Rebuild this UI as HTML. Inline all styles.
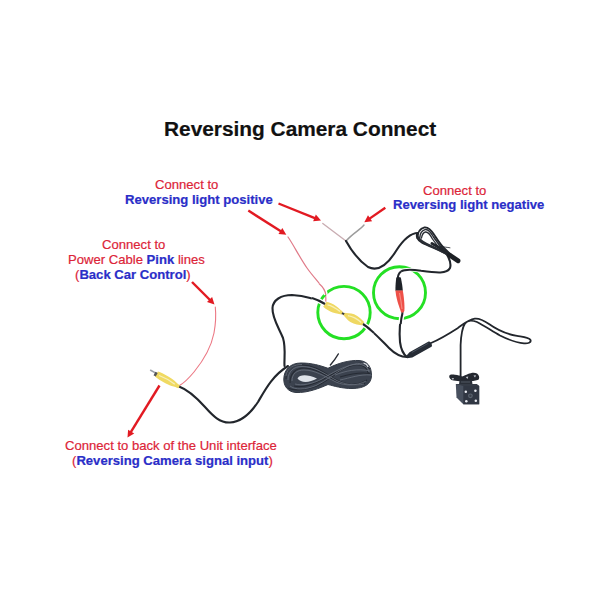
<!DOCTYPE html>
<html><head><meta charset="utf-8">
<style>
html,body{margin:0;padding:0;width:600px;height:600px;overflow:hidden;background:#fff;}
body{position:relative;font-family:"Liberation Sans",sans-serif;}
.t{position:absolute;white-space:nowrap;line-height:1;-webkit-text-stroke:0.2px currentColor;}
.r{color:#dc2438;}
.b{color:#2a2ec8;font-weight:bold;}
svg{position:absolute;left:0;top:0;}
</style></head><body>
<svg width="600" height="600" viewBox="0 0 600 600">
<g fill="none" stroke-linecap="round" stroke-linejoin="round">
<!-- pink thin wires -->
<path d="M288,237 C293,244 300,258 307,268 C314,278 322,285 325,292 C326,296 326,300 325.5,303" stroke="#e07a88" stroke-width="1.2"/>
<path d="M215.3,307 C216,314 216,322 214,333 C211,348 203,361 194,372 C189,378 184,383 179.5,385.5" stroke="#ec7884" stroke-width="1.1"/>
<path d="M322.8,223.5 L346,241" stroke="#c9adb2" stroke-width="1.4"/>
<path d="M364,225 C360,230 353,233 346,241" stroke="#9c9c9c" stroke-width="1.5"/>
<!-- black wires -->
<path d="M346,241 C351,250 358,260 368,267 C378,272 388,264 396,251 C403,240 410,233 418,233" stroke="#22262c" stroke-width="2.1"/>
<path d="M441,247 C447,253 452,262 450,268 C447,274 437,273 421,270.8 C413,269.5 405,268.8 401,271.5 C398.5,273.5 397.6,277 397.8,280" stroke="#22262c" stroke-width="2.1"/>
<path d="M402.7,311 C400,320 399,330 400,342 C401,350 403,354 407,357" stroke="#22262c" stroke-width="2.1"/>
<path d="M325,304 C318,300 306,296 292,295 C281,295 273,300 272.5,308 C272,318 279,328 283,338 C286,348 284,358 284.5,366" stroke="#22262c" stroke-width="2.1"/>
<path d="M363,324 C372,330 381,340 389,348 C395,354 400,357 407,357" stroke="#22262c" stroke-width="2.1"/>
<path d="M431,343 C437,340.5 447,335 457.6,328.2 C463,324.5 468,319.5 474.8,318.6 C480,318 484,320.5 489,324 C496,329 506,334 517,335.9 C523,337 529,337.5 530.5,340 C531.5,342.5 528,343.6 524,343.3 C515,342.6 507,339 500,335.5 C492,331 484,325.5 477,322 C472,320 467,320.5 465,323.5 C462,328 461,336 460.6,345 L460.6,378" stroke="#22262c" stroke-width="1.8"/>
<path d="M179,386.5 C186,389 196,397 205,407 C213,416 220,423 230,422.5 C240,422 250,414 258,402 C265,390 272,376 288,366" stroke="#22262c" stroke-width="2.1"/>
<!-- top-right coil -->
<path d="M417.5,233 C416,236 417,240 422,242.5 C429,246 439,250 449,255" stroke="#22262c" stroke-width="2"/>
<path d="M417.5,238.3 C417.5,232 420,228.5 424.5,227.4 C428.5,226.8 431.5,230.5 434.2,234.8 C437,239 440.5,245 445,249 C447,251 449,253 451,255" stroke="#22262c" stroke-width="1.9"/>
<path d="M419.8,237.5 C420,233.5 422,230.5 425,229.6 C428,229 431,232.5 433.5,237 C436,241 440,246.5 446,252" stroke="#2a2e35" stroke-width="1.5"/>
<path d="M421.5,238 C422,235 423.5,232.5 425.5,232 C428,231.8 430.5,235 432.5,239 C435,243 438,247 443,251" stroke="#2a2e35" stroke-width="1.3"/>
<path d="M418.5,237.5 C420,241 425,243.5 431,246 C437,248.5 443,251.5 449,255.5" stroke="#2a2e35" stroke-width="2.2"/>
<path d="M432,243.5 C437,246 442,249 447,253" stroke="#22262c" stroke-width="3"/>
<path d="M440,246.5 C444,247 447,247.3 450,247.8" stroke="#22262c" stroke-width="0.8"/>
<path d="M449.5,255 L458,260.8" stroke="#1c1f24" stroke-width="4.8"/>
</g>
<!-- coil big -->
<g fill="none" stroke-linejoin="round">
<path d="M328,368.3 C338,363 350,360 359,360.5 C367,361 371.5,366 371.5,375.5 C371.5,383.5 365,388.5 352,388.5 C342,388.5 334,386 328,384.5 C320,388 308,393 296,392.5 C288,392 283.5,386 283.8,379 C284,370 290,363 301,363 C312,363 320,365.5 328,368.3 Z" fill="#3b424e" stroke="#333a45" stroke-width="1"/>
<g stroke="#262b34" stroke-width="1.1" fill="none">
<path d="M286,379 C286,369 293,365 302,365 C314,365 322,371 334,378.5 C344,384.5 356,386.5 365,383.5"/>
<path d="M290,383 C290,373 296,368 304,368 C315,368 324,374 336,381 C345,385.5 357,386 367,380"/>
<path d="M288,388 C294,391 306,390.5 317,386 C327,381 337,372 348,366 C357,362 366,362 370,369"/>
<path d="M294,386 C302,388 312,385 322,380 C332,374 342,368 354,365 C362,364 367,366.5 368.5,374"/>
<path d="M340,377 C350,374 360,372 370,373.5"/>
</g>
<g stroke="#69717e" stroke-width="0.8" fill="none">
<path d="M288,380 C288,371 294,366.5 302,366.5 C314,366.5 322,372 334,379 C344,385 356,386 364,384"/>
<path d="M292,381 C292,373.5 297,370 304,370 C315,370 324,376 336,382 C345,386 357,386 366,381"/>
<path d="M290,386 C295,390 305,390 316,385.5 C326,381 336,372 348,366 C356,362.5 366,362 370,368"/>
<path d="M295,384 C302,386 312,384 322,379 C332,373 342,367 354,364.5 C362,363.5 368,366 369,372"/>
<path d="M286,376 C287,368 294,364.5 302,364.5"/>
<path d="M340,380 C350,378 360,374 371,375"/>
<path d="M335,375 C345,371 358,368 370,371"/>
</g>
<path d="M297.5,378.5 C299.5,374.5 307,374 317,378.5 C309,383 301,383 297.5,378.5 Z" fill="#dfe3e9"/>
<path d="M363.5,363 C365.5,363.5 367.5,365 368,367" stroke="#d9dce2" stroke-width="1.2" fill="none"/>

<path d="M338.3,354 C336,358 333,362 330.4,365" stroke="#2a2e35" stroke-width="1.5" stroke-linecap="round"/>
</g>
<!-- yellow connectors -->
<g transform="translate(324.5,304.3) rotate(26.6)">
<path d="M0,-2.8 C3,-3.9 8,-4.1 11,-3.6 C15,-2.9 18,-1.9 20,-1.3 L20,1.3 C18,1.9 15,2.9 11,3.6 C8,4.1 3,3.9 0,2.8 Z" fill="#efd862"/>
<path d="M21.5,-1.3 C24,-2 27,-3.9 31,-4.3 C36,-4.4 40,-3.2 44,-1.6 L44,1.6 C40,3.2 36,4.4 31,4.3 C27,3.9 24,2 21.5,1.3 Z" fill="#efd862"/>
<path d="M3,-0.8 C7,-1.8 12,-1.5 17,-0.6" stroke="#f7f0b8" stroke-width="1.3" fill="none"/>
<path d="M26,-0.3 C30,-1.5 36,-1.5 41,-0.3" stroke="#f7f0b8" stroke-width="1.3" fill="none"/>
<rect x="19.5" y="-1" width="2.5" height="2" fill="#3a3a3a"/>
</g>
<g transform="translate(156.5,374) rotate(29.5)">
<path d="M0,-3 C6,-4 14,-4.2 19,-3 C22,-2.2 24,-1.8 26,-1.6 L26,1.6 C24,1.8 22,2.2 19,3 C14,4.2 6,4 0,3 Z" fill="#f0da62"/>
<path d="M3,0 C9,-1 15,-1 21,0" stroke="#f6f0c0" stroke-width="1.2" fill="none"/>
<path d="M-7.5,-1.2 L0,-1.2 L0,0.4 L-7.5,0.4 Z" fill="#9aa0a8"/>
<path d="M-2,-1.5 L0.5,-1.5 L0.5,2.5 L-2,2.5 Z" fill="#555"/>
</g>
<!-- red connector -->
<path d="M396.3,277.5 C397.5,276.8 399.8,276.8 400.8,277.5 C401.8,282 402.6,287 402.8,290.8 L395.4,290.8 C395.4,286 395.8,281 396.3,277.5 Z" fill="#1e2228"/>
<path d="M395.4,290.5 L402.8,290.5 C403.6,295 404.8,304 404.4,310.5 C404,313 401.5,313.2 401,312 C398.5,305 396,298 395.4,290.5 Z" fill="#ee5048"/><path d="M399.5,293 C400.5,298 401.5,304 402,309" stroke="#f58a80" stroke-width="1.2" fill="none"/>
<!-- inline module -->
<g transform="translate(406.5,357.3) rotate(-29.2)"><path d="M0,-1.2 L5,-2.9 L27,-2.9 C29,-2.9 29,2.9 27,2.9 L5,2.9 L0,1.2 Z" fill="#262c35"/><path d="M7,-1.6 L26,-1.6" stroke="#4c5563" stroke-width="0.8"/></g>
<!-- camera -->
<g>
<path d="M449.2,376 C449.8,374.5 452,374.2 455,374.8 C458,375.3 460,375.6 462,376.4 C464,376 466,374.8 468,374 C471,372.8 474.5,372 477,373.6 C479,375 479.8,377.5 478.8,379.3 C477.8,380.6 474,381 470.5,381.2 L462,381.4 C459,381.2 456,381 453.5,380.6 C450.5,380 449,378 449.2,376 Z" fill="#242830"/>
<path d="M451.5,378.2 L454,378 L453,380 Z" fill="#c9cdd4"/>
<path d="M465.8,377 L468.3,376.6 L467.5,379 Z" fill="#c9cdd4"/>
<path d="M473.5,375.5 L476,375.3 L475,377.6 Z" fill="#c9cdd4"/>
<path d="M459.5,380.5 L472,380.5 L472.5,384.5 L459,384.5 Z" fill="#2a2f38"/>
<path d="M461,382 L470,382" stroke="#5a6270" stroke-width="0.8"/>
<path d="M455.8,384 L476.5,384 L479.2,386 L479.2,404.3 L463.3,404.3 L456.5,397.5 Z" fill="#48505e"/>
<path d="M455.8,384 L476.5,384 L479.2,386 L463.3,386 Z" fill="#353b46"/>
<rect x="463.3" y="386" width="15.9" height="18.3" fill="#313743"/>
<circle cx="465.8" cy="391.7" r="1.25" fill="#eceef4"/><circle cx="475.4" cy="390.8" r="1.25" fill="#eceef4"/>
<circle cx="466.3" cy="401.3" r="1.25" fill="#eceef4"/><circle cx="475.8" cy="400.8" r="1.25" fill="#eceef4"/>
<circle cx="470.4" cy="395.8" r="2.4" fill="#5c6470"/>
<circle cx="470.4" cy="395.8" r="1.2" fill="#3a404a"/>
</g>
<!-- green circles -->
<circle cx="344" cy="312.6" r="26.2" fill="none" stroke="#24e024" stroke-width="2.9"/>
<circle cx="399.5" cy="292.7" r="26" fill="none" stroke="#24e024" stroke-width="2.9"/>
<!-- halos over circles -->
<g fill="none" stroke-linecap="butt">
<path d="M312,298 C317,299.5 321,301.5 325,304" stroke="#fff" stroke-width="5"/>
<path d="M312,298 C317,299.5 321,301.5 325,304" stroke="#22262c" stroke-width="2.1"/>
<path d="M319,283.5 C323,287 325.5,291 325.8,295" stroke="#fff" stroke-width="4"/>
<path d="M319,283.5 C323,287 325.5,291 325.8,295" stroke="#e07a88" stroke-width="1.2"/>
<path d="M363,324 C367,326.5 370,329.5 374,333" stroke="#fff" stroke-width="5"/>
<path d="M363,324 C367,326.5 370,329.5 374,333" stroke="#22262c" stroke-width="2.1"/>
<path d="M421,270.8 C413,269.5 405,268.8 401,271.5" stroke="#fff" stroke-width="3.8"/>
<path d="M421,270.8 C413,269.5 405,268.8 401,271.5" stroke="#22262c" stroke-width="2.1"/>
<path d="M402.5,313 C401.5,317 401,320 400.7,324" stroke="#fff" stroke-width="5"/>
<path d="M402.5,313 C401.5,317 401,320 400.7,324" stroke="#22262c" stroke-width="2.1"/>
</g>
<!-- red arrows -->
<g fill="#e21a22">
<polygon points="278.05,204.61 314.98,219.39 315.87,217.16 278.95,202.39"/>
<polygon points="321.00,220.50 313.16,221.24 315.84,214.56"/>
<polygon points="384.61,206.71 368.54,217.89 369.91,219.86 385.99,208.69"/>
<polygon points="364.30,222.30 367.99,215.35 372.10,221.26"/>
<polygon points="247.66,211.61 280.59,232.59 281.88,230.56 248.94,209.59"/>
<polygon points="286.30,234.80 278.46,234.08 282.33,228.00"/>
<polygon points="191.15,282.85 209.41,301.11 211.11,299.41 192.85,281.15"/>
<polygon points="214.50,304.50 207.00,302.10 212.10,297.00"/>
<polygon points="158.48,384.87 129.62,431.76 131.67,433.02 160.52,386.13"/>
<polygon points="127.50,437.50 128.10,429.65 134.23,433.43"/>
</g>

</svg>
<div class="t" id="title" style="left:164px;top:119px;font-size:20.85px;font-weight:bold;color:#111;">Reversing Camera Connect</div>
<div class="t r" style="left:155px;top:178px;font-size:13.1px;">Connect to</div>
<div class="t b" style="left:125px;top:193px;font-size:13.1px;">Reversing light positive</div>
<div class="t r" style="left:423px;top:184px;font-size:13.1px;">Connect to</div>
<div class="t b" style="left:393px;top:198px;font-size:13.1px;">Reversing light negative</div>
<div class="t r" style="left:102px;top:238px;font-size:13.1px;">Connect to</div>
<div class="t r" style="left:68px;top:253px;font-size:13.1px;">Power Cable <span class="b">Pink</span> lines</div>
<div class="t r" style="left:75px;top:268px;font-size:13.1px;">(<span class="b">Back Car Control</span>)</div>
<div class="t r" style="left:65px;top:439px;font-size:13.1px;">Connect to back of the Unit interface</div>
<div class="t r" style="left:72px;top:454px;font-size:13.1px;">(<span class="b">Reversing Camera signal input</span>)</div>
</body></html>
